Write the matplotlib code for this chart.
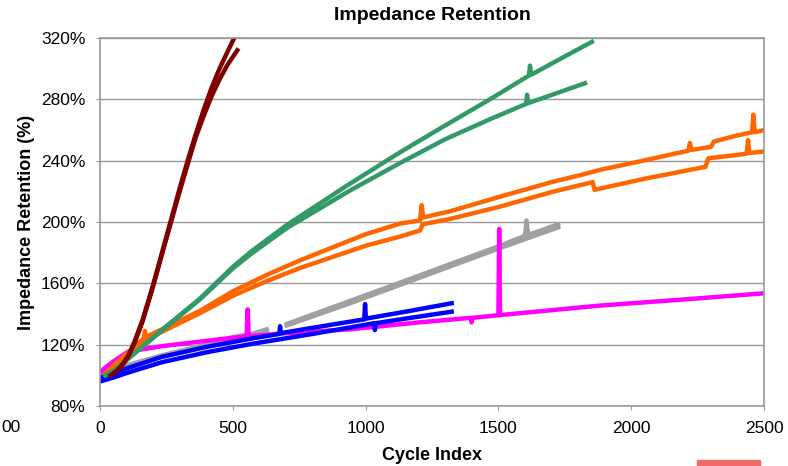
import numpy as np
import matplotlib
matplotlib.use('Agg')
from matplotlib import pyplot as plt
from matplotlib.patches import Rectangle

plt.rcParams['font.family'] = ['Liberation Sans', 'DejaVu Sans']

# ---- data (cycle index, impedance retention %) ----
darkred_a_x = [40, 60, 80, 107, 130, 160, 200, 235, 270, 300, 330, 360, 390, 420, 450, 480, 508]
darkred_a_y = [100, 102.5, 106, 113, 122, 136, 159, 181, 203, 222, 240, 257, 273, 287.5, 300, 311, 321]
darkred_b_x = [40, 60, 80, 107, 130, 160, 200, 235, 270, 300, 330, 360, 390, 420, 450, 480, 517]
darkred_b_y = [100, 102.5, 105.5, 112.5, 121, 135, 158, 180, 201.5, 220, 237.5, 255, 269, 282, 293, 302.5, 312]

green_a_x = [20, 60, 107, 232, 376, 502, 571, 703, 800, 941, 1130, 1300, 1468, 1615, 1619, 1623, 1750, 1852]
green_a_y = [100, 104, 111, 129.5, 150, 171, 181, 198, 209, 225, 245.5, 263, 280, 295.5, 302, 296, 308, 317.5]
green_b_x = [20, 60, 107, 232, 376, 502, 571, 703, 800, 941, 1130, 1300, 1468, 1604, 1608, 1612, 1826]
green_b_y = [100, 104, 111, 129, 149.5, 170, 179.5, 196, 206, 220.5, 238.5, 254, 267, 277, 283, 277.5, 290.5]

orange_a_x = [20, 60, 165, 169, 173, 376, 502, 628, 753, 1000, 1130, 1205, 1211, 1217, 1318, 1506, 1700,
              1807, 1883, 2045, 2215, 2221, 2227, 2300, 2312, 2400, 2455, 2460, 2465, 2500]
orange_a_y = [101, 108, 124, 129, 125, 142, 155, 165.5, 175, 192, 199, 201, 211, 203, 207, 216.5, 226,
              230.5, 234, 240, 246.5, 251.5, 247, 249, 252.5, 256.5, 258.5, 270, 258.5, 260]
orange_b_x = [20, 60, 169, 376, 502, 628, 753, 1000, 1130, 1205, 1215, 1318, 1506, 1700, 1855, 1862,
              2045, 2280, 2290, 2435, 2440, 2445, 2500]
orange_b_y = [101, 107, 123, 140.5, 152, 161.5, 170, 184.5, 190.5, 194.5, 198.5, 202, 210, 219.5, 226, 221,
              228, 236, 241.5, 244.5, 253.5, 245, 246]

gray_a_x = [0, 100, 232, 400, 502, 571, 628, 660, 703, 941, 1130, 1318, 1506, 1600, 1606, 1612, 1725]
gray_a_y = [101, 106.5, 113, 120, 125, 127, 130, None, 133.5, 148.5, 160.5, 172.5, 184.5, 191, 201, 191.5, 198.5]
gray_b_x = [0, 100, 232, 400, 502, 571, 628, 660, 703, 941, 1130, 1318, 1506, 1725]
gray_b_y = [100, 105.5, 112, 119, 124, 126, 129, None, 132.5, 147, 159, 171, 183, 196.5]

blue_a_x = [0, 50, 100, 232, 400, 571, 675, 678, 681, 800, 995, 998, 1001, 1150, 1324]
blue_a_y = [98.5, 101, 104.5, 112, 118.5, 124, 127, 132, 127.5, 131, 136.5, 146.5, 137, 141.5, 147]
blue_b_x = [0, 50, 100, 232, 400, 571, 800, 1000, 1032, 1035, 1038, 1150, 1324]
blue_b_y = [96, 98.5, 101.5, 108.5, 115, 120.5, 127, 133, 134, 129.5, 134, 137, 141.5]

magenta_x = [0, 20, 50, 106, 232, 400, 552, 556, 560, 700, 941, 1200, 1396, 1399, 1402,
             1500, 1503, 1506, 1883, 2200, 2500]
magenta_y = [102, 105, 109, 115.5, 119, 122.5, 125.5, 143, 125.5, 127.5, 130, 134.5, 137.5, 134.5, 137.5,
             139.2, 195.5, 139.3, 145.5, 149.5, 153.5]

y_ticks = [80, 120, 160, 200, 240, 280, 320]
x_ticks = [0, 500, 1000, 1500, 2000, 2500]


def arr(v):
    return np.array([np.nan if a is None else a for a in v], dtype=float)


fig = plt.figure(figsize=(7.88, 4.66), dpi=100)
ax = fig.add_axes([100 / 788, 60 / 466, 664 / 788, 368 / 466])

lw = 3.2
ax.plot(arr(gray_a_x), arr(gray_a_y), color='#a0a0a0', lw=lw)
ax.plot(arr(gray_b_x), arr(gray_b_y), color='#a0a0a0', lw=lw)
ax.plot(magenta_x, magenta_y, color='#ff00ff', lw=lw)
ax.plot(blue_a_x, blue_a_y, color='#0000ff', lw=lw)
ax.plot(blue_b_x, blue_b_y, color='#0000ff', lw=lw)
ax.plot(orange_a_x, orange_a_y, color='#ff6600', lw=lw)
ax.plot(orange_b_x, orange_b_y, color='#ff6600', lw=lw)
ax.plot(green_a_x, green_a_y, color='#339966', lw=lw)
ax.plot(green_b_x, green_b_y, color='#339966', lw=lw)
ax.plot(darkred_a_x, darkred_a_y, color='#800000', lw=lw)
ax.plot(darkred_b_x, darkred_b_y, color='#800000', lw=lw)

ax.set_xlim(0, 2500)
ax.set_ylim(80, 320)
ax.set_xticks(x_ticks)
ax.set_yticks(y_ticks)
ax.set_yticklabels(['{0}%'.format(v) for v in y_ticks])
ax.yaxis.grid(True, color='#999999', lw=1)
ax.set_axisbelow(True)
for s in ax.spines.values():
    s.set_color('#999999')
    s.set_linewidth(1.2)
ax.tick_params(axis='both', direction='out', length=3, color='#999999',
               labelsize=12.5, pad=7.5)

ax.set_title('Impedance Retention', fontsize=14, fontweight='bold', pad=13)
ax.set_xlabel('Cycle Index', fontsize=13, fontweight='bold', labelpad=8)
ax.set_ylabel('Impedance Retention (%)', fontsize=13, fontweight='bold', labelpad=4)

# stray tick-label fragment of a neighbouring chart at the left edge
fig.text(1 / 788, 1 - 428 / 466, '00', fontsize=12.5, ha='left', va='center')
# red bar at the bottom edge
fig.patches.append(Rectangle((697 / 788, 0), 63 / 788, 6 / 466, transform=fig.transFigure,
                             color='#f26b6b', zorder=5))

plt.savefig('out.png', dpi=100)
